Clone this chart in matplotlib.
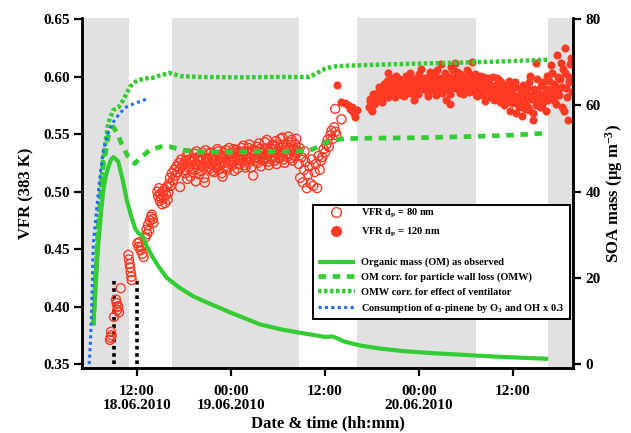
import matplotlib
matplotlib.use('Agg')
import matplotlib.pyplot as plt
from matplotlib.lines import Line2D
from matplotlib.patches import Rectangle

plt.rcParams['font.family'] = ['Liberation Serif', 'DejaVu Serif']
plt.rcParams['font.weight'] = 'bold'
plt.rcParams['mathtext.fontset'] = 'custom'
plt.rcParams['mathtext.rm'] = 'Liberation Serif:bold'
plt.rcParams['mathtext.it'] = 'Liberation Serif:italic:bold'
plt.rcParams['mathtext.bf'] = 'Liberation Serif:bold'
plt.rcParams['mathtext.default'] = 'rm'

# ---------------- data (time in hours since 18.06.2010 00:00) ----------------
night_start = [4.98, 16.5, 40.05, 64.5]
night_end = [11.0, 32.7, 55.3, 67.7]

marker_t = [9.0, 12.0]
marker_top = [0.425, 0.425]

vfr80_t = [8.55, 8.62, 8.68, 8.77, 9.06, 9.32, 9.40, 9.48, 9.55, 9.61, 9.70, 9.92,
           10.90, 10.98, 11.05, 11.12, 11.20, 11.28, 11.32,
           12.04, 12.20, 12.30, 12.45, 12.55, 12.70, 12.85, 13.05, 13.20, 13.30, 13.40,
           13.55, 13.65, 13.80, 13.90, 14.00, 14.10,
           14.60, 14.70, 14.80, 14.90, 15.00, 15.10, 15.20, 15.30, 15.40, 15.50, 15.60,
           15.70, 15.80, 15.90, 16.00, 16.10, 16.20, 16.30, 16.45, 16.60, 16.75, 16.90,
           17.05, 17.20, 17.35, 17.50, 17.65, 17.80, 17.50,
           18.00, 18.17, 18.33, 18.50, 18.67, 18.83, 19.00, 19.17, 19.33, 19.50, 19.67, 19.83,
           20.00, 20.17, 20.33, 20.50, 20.67, 20.83, 21.00, 21.17, 21.33, 21.50, 21.67, 21.83,
           22.00, 22.17, 22.33, 22.50, 22.67, 22.83, 23.00, 23.17, 23.33, 23.50, 23.67, 23.83,
           24.00, 24.17, 24.33, 24.50, 24.67, 24.83, 25.00, 25.17, 25.33, 25.50, 25.67, 25.83,
           26.00, 26.17, 26.33, 26.50, 26.67, 26.83, 27.00, 27.17, 27.33, 27.50, 27.67, 27.83,
           28.00, 28.17, 28.33, 28.50, 28.67, 28.83, 29.00, 29.17, 29.33, 29.50, 29.67, 29.83,
           30.00, 30.17, 30.33, 30.50, 30.67, 30.83, 31.00, 31.17, 31.33, 31.50, 31.67, 31.83,
           32.00, 32.17, 32.33, 32.50,
           32.67, 32.75, 32.83, 33.00, 33.17, 33.33, 33.40, 33.50, 33.67, 33.83, 34.00, 34.17,
           34.33, 34.50, 34.67, 34.83, 35.00, 35.17, 35.33, 35.50,
           35.67, 35.83, 36.00, 36.17, 36.33, 36.50, 36.67, 36.83, 37.00, 37.17, 37.33,
           37.30, 37.45, 38.10]
vfr80 = [0.371, 0.373, 0.378, 0.375, 0.391, 0.406, 0.403, 0.397, 0.400, 0.400, 0.395, 0.416,
         0.445, 0.441, 0.437, 0.434, 0.430, 0.426, 0.423,
         0.455, 0.452, 0.456, 0.449, 0.452, 0.446, 0.443, 0.460, 0.467, 0.463, 0.471,
         0.466, 0.475, 0.478, 0.480, 0.476, 0.473,
         0.500, 0.496, 0.503, 0.492, 0.498, 0.494, 0.489, 0.500, 0.495, 0.502, 0.490,
         0.497, 0.504, 0.493, 0.499, 0.507, 0.512, 0.505, 0.516, 0.510, 0.519, 0.514,
         0.522, 0.517, 0.525, 0.520, 0.528, 0.523, 0.504,
         0.524, 0.516, 0.531, 0.521, 0.528, 0.513, 0.526, 0.519, 0.533, 0.509, 0.523, 0.530,
         0.527, 0.518, 0.534, 0.522, 0.508, 0.529, 0.526, 0.533, 0.520, 0.524, 0.530, 0.517,
         0.528, 0.521, 0.535, 0.525, 0.532, 0.516, 0.529, 0.522, 0.536, 0.519, 0.526, 0.533,
         0.530, 0.523, 0.537, 0.527, 0.534, 0.520, 0.531, 0.524, 0.538, 0.528, 0.535, 0.521,
         0.530, 0.525, 0.541, 0.529, 0.536, 0.514, 0.532, 0.526, 0.539, 0.529, 0.537, 0.522,
         0.533, 0.527, 0.543, 0.530, 0.538, 0.523, 0.534, 0.528, 0.541, 0.531, 0.539, 0.524,
         0.535, 0.529, 0.546, 0.532, 0.541, 0.525, 0.536, 0.530, 0.548, 0.533, 0.543, 0.527,
         0.537, 0.531, 0.546, 0.534,
         0.524, 0.538, 0.512, 0.530, 0.508, 0.519, 0.535, 0.526, 0.503, 0.515, 0.522, 0.507,
         0.528, 0.505, 0.517, 0.524, 0.503, 0.531, 0.519, 0.527,
         0.530, 0.537, 0.534, 0.541, 0.545, 0.539, 0.549, 0.553, 0.546, 0.556, 0.552,
         0.572, 0.549, 0.563]

# second set of 80 nm samples (interleaved in time)
vfr80_t2 = [18.08, 18.25, 18.42, 18.58, 18.75, 18.92, 19.08, 19.25, 19.42, 19.58, 19.75, 19.92,
            20.08, 20.25, 20.42, 20.58, 20.75, 20.92, 21.08, 21.25, 21.42, 21.58, 21.75, 21.92,
            22.08, 22.25, 22.42, 22.58, 22.75, 22.92, 23.08, 23.25, 23.42, 23.58, 23.75, 23.92,
            24.08, 24.25, 24.42, 24.58, 24.75, 24.92, 25.08, 25.25, 25.42, 25.58, 25.75, 25.92,
            26.08, 26.25, 26.42, 26.58, 26.75, 26.92, 27.08, 27.25, 27.42, 27.58, 27.75, 27.92,
            28.08, 28.25, 28.42, 28.58, 28.75, 28.92, 29.08, 29.25, 29.42, 29.58, 29.75, 29.92,
            30.08, 30.25, 30.42, 30.58, 30.75, 30.92, 31.08, 31.25, 31.42, 31.58, 31.75, 31.92,
            32.08, 32.25, 32.42]
vfr80_2 = [0.519, 0.527, 0.511, 0.533, 0.522, 0.526, 0.517, 0.529, 0.524, 0.535, 0.520, 0.515,
           0.531, 0.523, 0.528, 0.512, 0.536, 0.525, 0.521, 0.529, 0.534, 0.518, 0.527, 0.532,
           0.523, 0.537, 0.519, 0.530, 0.526, 0.513, 0.534, 0.525, 0.531, 0.521, 0.538, 0.527,
           0.526, 0.533, 0.518, 0.536, 0.529, 0.524, 0.535, 0.527, 0.532, 0.540, 0.523, 0.530,
           0.527, 0.538, 0.533, 0.521, 0.535, 0.529, 0.536, 0.530, 0.525, 0.542, 0.531, 0.534,
           0.528, 0.537, 0.532, 0.545, 0.526, 0.535, 0.537, 0.531, 0.540, 0.527, 0.544, 0.533,
           0.530, 0.539, 0.534, 0.547, 0.528, 0.538, 0.541, 0.533, 0.538, 0.529, 0.545, 0.536,
           0.532, 0.541, 0.536]

vfr120_t = [37.5, 38.1, 38.6, 39.0, 39.2, 39.4, 39.6, 39.8, 40.05,
            41.6, 41.8, 42.0, 42.2, 42.4, 42.6, 42.8, 43.0, 43.2, 43.4,
            43.6, 43.8, 44.0, 44.2, 44.4, 44.6, 44.8, 45.0, 45.2, 45.4,
            45.6, 45.8, 46.0, 46.2, 46.4, 46.6, 46.8, 47.0, 47.2, 47.4,
            47.6, 47.8, 48.0, 48.2, 48.4, 48.6, 48.8, 49.0, 49.2, 49.4,
            49.6, 49.8, 50.0, 50.2, 50.4, 50.6, 50.8, 51.0, 51.2, 51.4,
            51.6, 51.8, 52.0, 52.2, 52.4, 52.6, 52.8, 53.0, 53.2, 53.4,
            53.6, 53.8, 54.0, 54.2, 54.4, 54.6, 54.8, 55.0, 55.2, 55.4,
            55.6, 55.8, 56.0, 56.2, 56.4, 56.6, 56.8, 57.0, 57.2, 57.4,
            57.6, 57.8, 58.0, 58.2, 58.4, 58.6, 58.8, 59.0, 59.2, 59.4,
            59.6, 59.8, 60.0, 60.2, 60.4, 60.6, 60.8, 61.0, 61.2, 61.4,
            61.6, 61.8, 62.0, 62.2, 62.4, 62.6, 62.8, 63.0, 63.2, 63.4,
            63.6, 63.8, 64.0, 64.2, 64.4, 64.6, 64.8, 65.0, 65.2, 65.4,
            65.6, 65.8, 66.0, 66.2, 66.4, 66.6, 66.8, 67.0, 67.2, 67.4]
vfr120 = [0.593, 0.578, 0.577, 0.575, 0.572, 0.574, 0.569, 0.565, 0.571,
          0.574, 0.581, 0.570, 0.584, 0.578, 0.586, 0.579, 0.590, 0.583, 0.588,
          0.592, 0.584, 0.603, 0.589, 0.594, 0.587, 0.595, 0.582, 0.591, 0.598,
          0.590, 0.584, 0.596, 0.588, 0.601, 0.593, 0.586, 0.599, 0.589, 0.580,
          0.595, 0.588, 0.602, 0.591, 0.597, 0.589, 0.599, 0.592, 0.586, 0.604,
          0.596, 0.590, 0.601, 0.584, 0.598, 0.593, 0.611, 0.588, 0.597, 0.580,
          0.594, 0.600, 0.576, 0.590, 0.606, 0.612, 0.596, 0.589, 0.602, 0.593,
          0.585, 0.598, 0.591, 0.604, 0.587, 0.599, 0.613, 0.592, 0.595, 0.583,
          0.590, 0.601, 0.586, 0.596, 0.579, 0.594, 0.588, 0.599, 0.583, 0.591,
          0.580, 0.593, 0.586, 0.597, 0.578, 0.589, 0.575, 0.584, 0.593, 0.581,
          0.570, 0.586, 0.579, 0.591, 0.568, 0.583, 0.574, 0.588, 0.566, 0.580,
          0.577, 0.590, 0.571, 0.601, 0.584, 0.562, 0.580, 0.612, 0.586, 0.574,
          0.592, 0.578, 0.583, 0.570, 0.589, 0.596, 0.585, 0.603, 0.580, 0.592,
          0.619, 0.588, 0.598, 0.574, 0.607, 0.625, 0.590, 0.562, 0.600, 0.616]

# second set of 120 nm samples (interleaved in time)
vfr120_t2 = [41.7, 41.9, 42.1, 42.3, 42.5, 42.7, 42.9, 43.1, 43.3, 43.5,
             43.7, 43.9, 44.1, 44.3, 44.5, 44.7, 44.9, 45.1, 45.3, 45.5,
             45.7, 45.9, 46.1, 46.3, 46.5, 46.7, 46.9, 47.1, 47.3, 47.5,
             47.7, 47.9, 48.1, 48.3, 48.5, 48.7, 48.9, 49.1, 49.3, 49.5,
             49.7, 49.9, 50.1, 50.3, 50.5, 50.7, 50.9, 51.1, 51.3, 51.5,
             51.7, 51.9, 52.1, 52.3, 52.5, 52.7, 52.9, 53.1, 53.3, 53.5,
             53.7, 53.9, 54.1, 54.3, 54.5, 54.7, 54.9, 55.1, 55.3, 55.5,
             55.7, 55.9, 56.1, 56.3, 56.5, 56.7, 56.9, 57.1, 57.3, 57.5,
             57.7, 57.9, 58.1, 58.3, 58.5, 58.7, 58.9, 59.1, 59.3, 59.5,
             59.7, 59.9, 60.1, 60.3, 60.5, 60.7, 60.9, 61.1, 61.3, 61.5,
             61.7, 61.9, 62.1, 62.3, 62.5, 62.7, 62.9, 63.1, 63.3, 63.5,
             63.7, 63.9, 64.1, 64.3, 64.5, 64.7, 64.9, 65.1, 65.3, 65.5,
             65.7, 65.9, 66.1, 66.3, 66.5, 66.7, 66.9, 67.1, 67.3, 67.5]
vfr120_2 = [0.579, 0.572, 0.585, 0.576, 0.582, 0.581, 0.591, 0.585, 0.578, 0.594,
            0.587, 0.596, 0.582, 0.599, 0.590, 0.593, 0.585, 0.601, 0.589, 0.594,
            0.597, 0.591, 0.583, 0.598, 0.592, 0.590, 0.603, 0.594, 0.586, 0.598,
            0.592, 0.585, 0.597, 0.607, 0.593, 0.596, 0.590, 0.583, 0.599, 0.593,
            0.602, 0.588, 0.595, 0.606, 0.591, 0.599, 0.586, 0.594, 0.603, 0.589,
            0.597, 0.585, 0.608, 0.593, 0.599, 0.590, 0.604, 0.597, 0.586, 0.600,
            0.595, 0.589, 0.606, 0.593, 0.598, 0.588, 0.596, 0.602, 0.585, 0.594,
            0.598, 0.592, 0.584, 0.600, 0.589, 0.597, 0.582, 0.593, 0.589, 0.600,
            0.588, 0.599, 0.583, 0.591, 0.595, 0.583, 0.592, 0.588, 0.578, 0.596,
            0.590, 0.577, 0.584, 0.595, 0.581, 0.576, 0.589, 0.582, 0.593, 0.572,
            0.586, 0.574, 0.595, 0.581, 0.568, 0.589, 0.575, 0.598, 0.583, 0.579,
            0.574, 0.595, 0.586, 0.601, 0.580, 0.588, 0.610, 0.583, 0.594, 0.576,
            0.600, 0.584, 0.612, 0.591, 0.570, 0.603, 0.582, 0.595, 0.611, 0.587]

om_t = [6.42, 6.7, 7.06, 7.4, 7.7, 8.0, 8.34, 8.7, 9.0, 9.6, 10.2, 10.7, 11.3, 11.8,
        12.2, 12.7, 13.2, 14.0, 14.8, 15.8, 17.5, 19.3, 21.3, 24.0, 27.7, 30.5, 33.0,
        35.0, 36.0, 37.0, 38.5, 40.5, 43.0, 46.0, 50.0, 54.0, 58.0, 62.0, 64.5]
om = [9.0, 18.0, 28.0, 35.0, 40.3, 43.5, 45.7, 47.5, 48.0, 47.0, 42.5, 38.0, 34.0, 31.3,
      30.3, 29.8, 27.5, 24.8, 22.5, 20.0, 17.6, 15.6, 14.0, 11.9, 9.2, 8.0, 7.2,
      6.6, 6.3, 6.4, 5.2, 4.3, 3.6, 3.0, 2.5, 2.1, 1.7, 1.4, 1.2]

omw_t = [6.42, 7.06, 7.7, 8.34, 8.97, 9.5, 10.0, 10.8, 11.7, 12.4, 13.6, 15.0, 16.2,
         18.0, 20.0, 25.0, 30.0, 34.0, 35.0, 36.0, 37.0, 38.5, 42.0, 48.0, 55.0, 60.0, 63.7]
omw = [9.0, 32.0, 46.0, 53.0, 55.0, 53.5, 51.2, 48.3, 46.5, 47.8, 49.6, 50.4, 50.4,
       49.6, 49.2, 49.2, 49.3, 49.5, 50.3, 51.3, 51.9, 52.3, 52.4, 52.5, 52.8, 53.1, 53.5]

omv_t = [6.42, 7.06, 7.7, 8.34, 8.97, 9.6, 10.0, 10.6, 11.1, 11.8, 12.8, 14.0, 15.0,
         16.2, 17.5, 20.0, 25.0, 30.0, 34.0, 35.0, 36.0, 37.0, 38.5, 42.0, 48.0, 55.0,
         60.0, 64.5]
omv = [9.0, 33.0, 48.0, 56.0, 58.9, 59.5, 60.5, 62.5, 64.3, 65.5, 66.2, 66.4, 67.0,
       67.5, 66.8, 66.6, 66.5, 66.6, 66.6, 67.5, 68.5, 69.0, 69.2, 69.4, 69.7, 70.0,
       70.3, 70.6]

apin_t = [5.9, 6.05, 6.2, 6.42, 6.85, 7.3, 7.7, 8.3, 9.0, 9.8, 10.7, 11.6, 12.5, 13.4]
apin = [0.0, 5.0, 12.5, 28.0, 36.0, 44.0, 49.6, 53.5, 56.2, 58.2, 59.7, 60.4, 61.0, 61.6]

xtick_pos = [12, 24, 36, 48, 60]
xtick_lab = ['12:00\n18.06.2010', '00:00\n19.06.2010', '12:00',
             '00:00\n20.06.2010', '12:00']
ytick_left = [0.35, 0.40, 0.45, 0.50, 0.55, 0.60, 0.65]
ytick_right = [0, 20, 40, 60, 80]

RED = '#ff3a24'
GREEN = '#33cc33'
BLUE = '#1a6cff'
GRAY = '#e1e1e1'

# ---------------- figure ----------------
W, H = 631, 433
fig = plt.figure(figsize=(6.31, 4.33), dpi=100)
ax = fig.add_axes([0.130, 0.150, 0.778, 0.808])
ax2 = ax.twinx()

for s, e in zip(night_start, night_end):
    ax.axvspan(s, e, color=GRAY, lw=0, zorder=0)

ax.vlines(marker_t, [0.35] * len(marker_t), marker_top, colors='k', lw=2.6,
          linestyles=(0, (1, 1)), zorder=2)

ax.scatter(vfr80_t + vfr80_t2, vfr80 + vfr80_2, s=42, facecolors='none',
           edgecolors=RED, linewidths=1.0, zorder=3)
ax.scatter(vfr120_t + vfr120_t2, vfr120 + vfr120_2, s=34, color=RED, lw=0, zorder=3)

l1, = ax2.plot(om_t, om, color=GREEN, lw=3.0, solid_capstyle='butt')
l2, = ax2.plot(omw_t, omw, color=GREEN, lw=3.4, ls=(0, (1.6, 1.4)))
l3, = ax2.plot(omv_t, omv, color=GREEN, lw=3.2, ls=(0, (0.8, 0.55)))
l4, = ax2.plot(apin_t, apin, color=BLUE, lw=2.2, ls=(0, (1, 1.1)))

ax.set_xlim(4.98, 67.66)
ax.set_ylim(0.3465, 0.6509)
ax2.set_ylim(-0.93, 80.23)

ax.set_xticks(xtick_pos)
ax.set_xticklabels(xtick_lab, fontsize=11, fontweight='bold', linespacing=1.15)
ax.set_yticks(ytick_left)
ax.set_yticklabels(['%.2f' % v for v in ytick_left], fontsize=11, fontweight='bold')
ax2.set_yticks(ytick_right)
ax2.set_yticklabels([str(v) for v in ytick_right], fontsize=11, fontweight='bold')

for a in (ax, ax2):
    a.spines['top'].set_visible(False)
    for sp in ('left', 'right', 'bottom'):
        a.spines[sp].set_linewidth(1.8)
    a.tick_params(direction='out', length=6, width=1.6, pad=3)
ax.tick_params(axis='x', pad=6)

ax.set_xlabel('Date & time (hh:mm)', fontsize=12, fontweight='bold', labelpad=2)
ax.set_ylabel('VFR (383 K)', fontsize=12, fontweight='bold', labelpad=6)
ax2.set_ylabel('SOA mass (µg m$^{-3}$)', fontsize=12, fontweight='bold', labelpad=2)

# legend: frame + two groups
frame = Rectangle((313 / W, 1 - 319 / H), (570 - 313) / W, (319 - 205) / H,
                  transform=fig.transFigure, facecolor='white', edgecolor='black',
                  lw=1.4, zorder=4)
ax2.add_patch(frame)
frame.set_clip_on(False)

h1 = Line2D([], [], marker='o', ls='none', mfc='none', mec=RED, ms=7, mew=1.0)
h2 = Line2D([], [], marker='o', ls='none', mfc=RED, mec=RED, ms=7)
lab1 = ['VFR d$_\\mathregular{p}$ = 80 nm', 'VFR d$_\\mathregular{p}$ = 120 nm']
lab2 = ['Organic mass (OM) as observed', 'OM corr. for particle wall loss (OMW)',
        'OMW corr. for effect of ventilator',
        'Consumption of α-pinene by O$_3$ and OH x 0.3']
common = dict(frameon=False, prop={'size': 7.5, 'weight': 'bold'}, handlelength=3.55,
              handletextpad=0.55, borderpad=0, borderaxespad=0,
              bbox_transform=fig.transFigure)
leg1 = ax2.legend([h1, h2], lab1, loc='upper left', labelspacing=0.55,
                  bbox_to_anchor=(318 / W, 1 - 207 / H), **common)
ax2.add_artist(leg1)
leg2 = ax2.legend([l1, l2, l3, l4], lab2, loc='lower left', labelspacing=0.5,
                  bbox_to_anchor=(318 / W, 1 - 315 / H), **common)
leg1.set_zorder(6)
leg2.set_zorder(6)

fig.savefig('out.png', dpi=100)
